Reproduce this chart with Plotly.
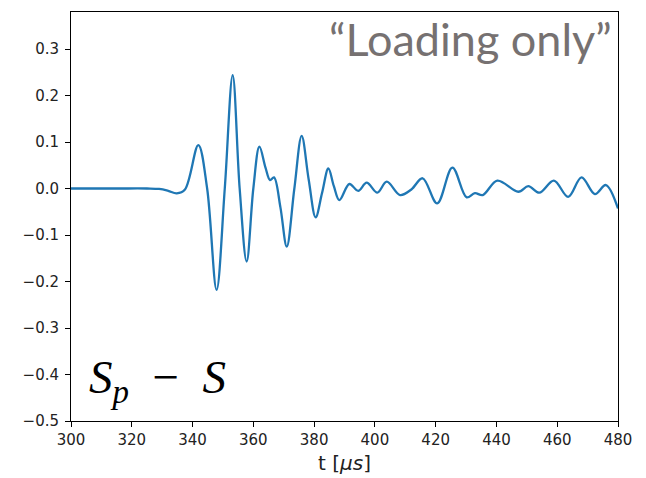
import plotly.graph_objects as go

# time samples (µs) at read-off points of the waveform
t = [300, 315, 325, 329, 332, 334.8, 337.5, 341.9, 344.8, 347.9, 350.6, 353.2, 355.5, 357.8,
     360.0, 362.0, 364.0, 365.5, 366.8, 368.9, 371.0, 373.5, 375.9, 378.2, 380.5, 382.6, 384.7,
     386.5, 388.3, 391.6, 394.5, 397.3, 400.8, 403.9, 408.3, 412.0, 415.7, 420.5, 425.5, 430.2,
     432.9, 435.5, 440.3, 447.2, 450.5, 454.1, 458.9, 463.6, 468.0, 472.4, 476.0, 480.0]
# S_p - S values
s = [0.0, 0.0, 0.0, -0.001, -0.005, -0.0103, -0.002, 0.0935, 0.0, -0.218, 0.0, 0.244, 0.0, -0.157,
     0.0, 0.090, 0.045, 0.018, 0.024, -0.04, -0.125, 0.0, 0.113, 0.02, -0.062, -0.01, 0.043,
     0.005, -0.025, 0.0097, -0.005, 0.0125, -0.009, 0.0146, -0.014, -0.002, 0.022, -0.032, 0.045, -0.019,
     -0.010, -0.014, 0.017, -0.007, 0.005, -0.009, 0.017, -0.018, 0.024, -0.012, 0.0075, -0.043]

x_ticks = [300, 320, 340, 360, 380, 400, 420, 440, 460, 480]
y_ticks = [-0.5, -0.4, -0.3, -0.2, -0.1, 0.0, 0.1, 0.2, 0.3]

fig = go.Figure()
fig.add_trace(go.Scatter(x=t, y=s, mode="lines",
                         line=dict(color="#1f77b4", width=2.3, shape="spline", smoothing=1.0),
                         hoverinfo="skip", showlegend=False))

axis_common = dict(showline=True, linecolor="black", linewidth=1, mirror=True,
                   ticks="outside", ticklen=5, tickwidth=1, tickcolor="black",
                   showgrid=False, zeroline=False,
                   tickfont=dict(family="DejaVu Sans", size=15, color="#222222"))

# page body has an 8px margin, so the figure is 8px smaller and margins shifted
fig.update_layout(
    width=638, height=470,
    margin=dict(l=63, r=28, t=4, b=57),
    paper_bgcolor="white", plot_bgcolor="white",
    xaxis=dict(range=[300, 480], tickvals=x_ticks,
               ticktext=[str(v) for v in x_ticks], **axis_common),
    yaxis=dict(range=[-0.5, 0.3796], tickvals=y_ticks,
               ticktext=[f"{v:.1f}".replace("-", "\u2212") for v in y_ticks],
               ticklabelstandoff=3, **axis_common),
    annotations=[
        dict(text="t [<i>μs</i>]", xref="paper", yref="paper", x=0.5, y=-0.103,
             xanchor="center", yanchor="middle", showarrow=False,
             font=dict(family="DejaVu Sans", size=20, color="#222222")),
        dict(text="\u201cLoading only\u201d", xref="paper", yref="paper", x=0.993, y=0.935,
             xanchor="right", yanchor="middle", showarrow=False,
             font=dict(family="Lato", size=45, color="#767171")),
        dict(text="<i>S</i><sub><i>p</i></sub>\u2002\u2212\u2002<i>S</i>", xref="paper", yref="paper",
             x=0.03, y=0.1, xanchor="left", yanchor="middle", showarrow=False,
             font=dict(family="Liberation Serif", size=47, color="black")),
    ],
)

fig.write_html("out.html")
